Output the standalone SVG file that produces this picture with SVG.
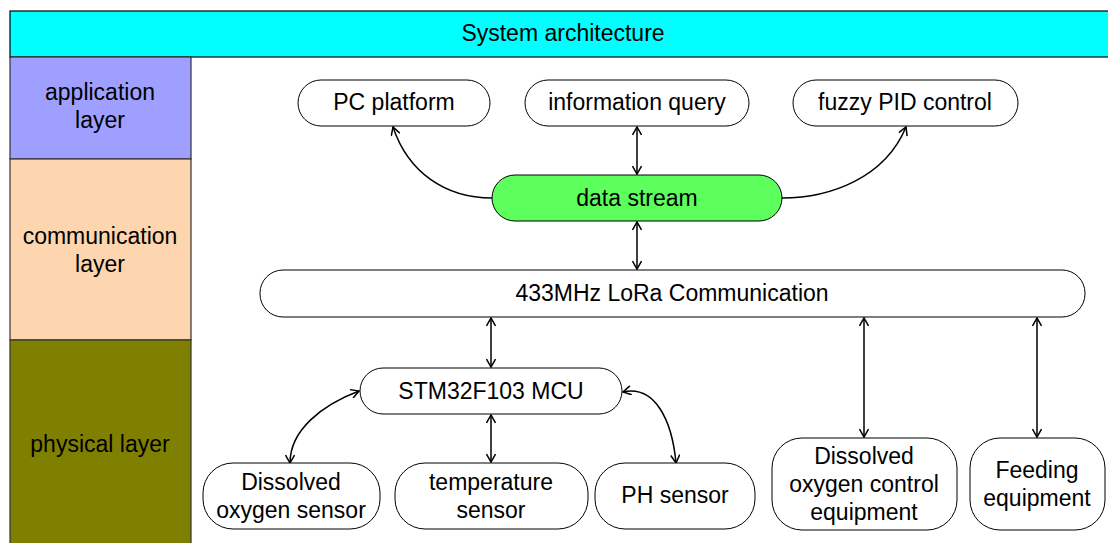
<svg xmlns="http://www.w3.org/2000/svg" width="1108" height="543" viewBox="0 0 1108 543">
<style>
text{font-family:"Liberation Sans",Arial,sans-serif;font-size:23px;fill:#000;text-anchor:middle;dominant-baseline:central}
.node{fill:#fff;stroke:#000;stroke-width:1}
.layer{stroke:#333;stroke-width:1.2}
.conn{fill:none;stroke:#000;stroke-width:1.5}
</style>
<defs>
<marker id="arr" viewBox="0 0 10 10" refX="9" refY="5" markerWidth="10" markerHeight="10" markerUnits="userSpaceOnUse" orient="auto-start-reverse">
<path d="M1,0.5 L9,5 L1,9.5" fill="none" stroke="#000" stroke-width="1.5"/>
</marker>
</defs>
<rect width="1108" height="543" fill="#fff"/>
<g id="title">
<rect x="10" y="11" width="1110" height="46" fill="#00FFFF" stroke="#000" stroke-width="1.2"/>
<text x="563" y="33">System architecture</text>
</g>
<g id="layer-application">
<rect class="layer" x="10" y="57" width="181" height="102" fill="#9F9FFF"/>
<text x="100" y="92">application</text>
<text x="100" y="120">layer</text>
</g>
<g id="layer-communication">
<rect class="layer" x="10" y="159" width="181" height="181" fill="#FDD5AE"/>
<text x="100" y="236">communication</text>
<text x="100" y="264">layer</text>
</g>
<g id="layer-physical">
<rect class="layer" x="10" y="340" width="181" height="210" fill="#808000"/>
<text x="100" y="444">physical layer</text>
</g>
<g id="connectors">
<line class="conn" x1="637" y1="127" x2="637" y2="174" marker-start="url(#arr)" marker-end="url(#arr)"/>
<line class="conn" x1="637" y1="222" x2="637" y2="269" marker-start="url(#arr)" marker-end="url(#arr)"/>
<line class="conn" x1="491" y1="318" x2="491" y2="367" marker-start="url(#arr)" marker-end="url(#arr)"/>
<line class="conn" x1="491" y1="415" x2="491" y2="462" marker-start="url(#arr)" marker-end="url(#arr)"/>
<line class="conn" x1="864" y1="318" x2="864" y2="437" marker-start="url(#arr)" marker-end="url(#arr)"/>
<line class="conn" x1="1037" y1="318" x2="1037" y2="437" marker-start="url(#arr)" marker-end="url(#arr)"/>
<path class="conn" d="M492,198 C445,198 408,172 393,127" marker-end="url(#arr)"/>
<path class="conn" d="M782,198 C830,198 885,178 906,127" marker-end="url(#arr)"/>
<path class="conn" d="M359,391 C322,405 290,430 290,463" marker-start="url(#arr)" marker-end="url(#arr)"/>
<path class="conn" d="M623,392 C655,385 672,420 676,463" marker-start="url(#arr)" marker-end="url(#arr)"/>
</g>
<g id="pc-platform">
<rect class="node" x="298" y="80" width="192" height="46" rx="23"/>
<text x="394" y="102">PC platform</text>
</g>
<g id="information-query">
<rect class="node" x="525" y="80" width="224" height="46" rx="23"/>
<text x="637" y="102">information query</text>
</g>
<g id="fuzzy-pid">
<rect class="node" x="793" y="80" width="225" height="46" rx="23"/>
<text x="905" y="102">fuzzy PID control</text>
</g>
<g id="data-stream">
<rect x="492" y="175" width="290" height="46" rx="23" fill="#5CFF5C" stroke="#000" stroke-width="1"/>
<text x="637" y="198">data stream</text>
</g>
<g id="lora">
<rect class="node" x="260" y="270" width="825" height="47" rx="23"/>
<text x="672" y="293">433MHz LoRa Communication</text>
</g>
<g id="mcu">
<rect class="node" x="360" y="368" width="262" height="46" rx="23"/>
<text x="491" y="391">STM32F103 MCU</text>
</g>
<g id="do-sensor">
<rect class="node" x="203" y="463" width="177" height="66" rx="30"/>
<text x="291" y="482">Dissolved</text>
<text x="291" y="510">oxygen sensor</text>
</g>
<g id="temp-sensor">
<rect class="node" x="395" y="463" width="193" height="66" rx="30"/>
<text x="491" y="482">temperature</text>
<text x="491" y="510">sensor</text>
</g>
<g id="ph-sensor">
<rect class="node" x="595" y="463" width="160" height="66" rx="30"/>
<text x="675" y="495">PH sensor</text>
</g>
<g id="do-control">
<rect class="node" x="772" y="438" width="185" height="92" rx="30"/>
<text x="864" y="456">Dissolved</text>
<text x="864" y="484">oxygen control</text>
<text x="864" y="512">equipment</text>
</g>
<g id="feeding">
<rect class="node" x="970" y="438" width="135" height="92" rx="30"/>
<text x="1037" y="470">Feeding</text>
<text x="1037" y="498">equipment</text>
</g>
</svg>
